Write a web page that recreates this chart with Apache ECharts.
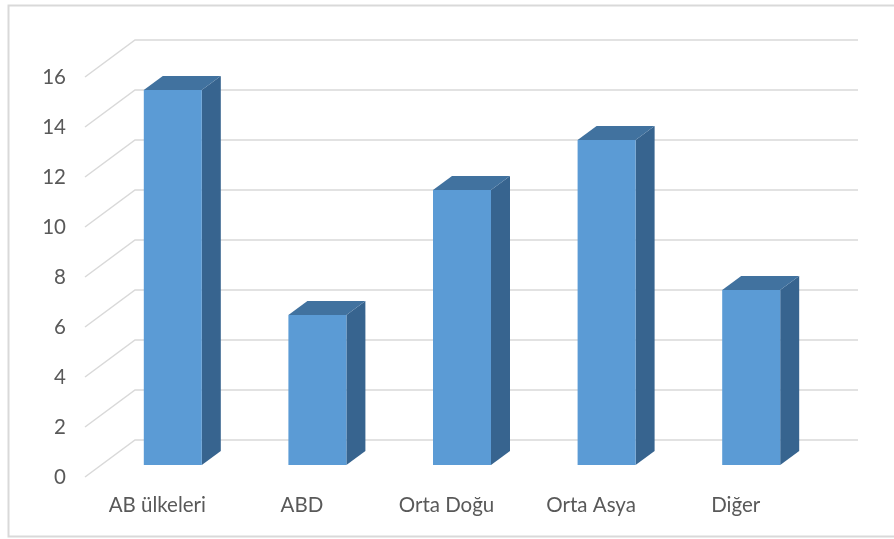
<!DOCTYPE html>
<html>
<head>
<meta charset="utf-8">
<style>html,body{margin:0;padding:0;background:#fff}#c{width:894px;height:539px}</style>
<script src="https://cdn.jsdelivr.net/npm/echarts@6/dist/echarts.min.js"></script>
</head>
<body>
<div id="c"></div>
<script>
const categories = ['AB ülkeleri', 'ABD', 'Orta Doğu', 'Orta Asya', 'Diğer'];
const values = [15, 6, 11, 13, 7];
const yTicks = [0, 2, 4, 6, 8, 10, 12, 14, 16];

const FONT = 'Lato, "Open Sans", sans-serif';
const FLOOR_DX = 50, FLOOR_DY = -37;   // depth of the floor (front edge to back wall)
const BAR_DX = 15.5, BAR_DY = -12;     // front face of the bars within the floor
const DEPTH_DX = 19, DEPTH_DY = -14;   // depth of a bar
const BAR_W = 58;

const chart = echarts.init(document.getElementById('c'), null, {renderer: 'canvas'});

function renderWall(params, api) {
  const y = api.coord([0, api.value(1)])[1];
  const x0 = params.coordSys.x;
  const x1 = x0 + params.coordSys.width + FLOOR_DX;
  return {
    type: 'polyline',
    shape: {points: [[x0, y], [x0 + FLOOR_DX, y + FLOOR_DY], [x1, y + FLOOR_DY]]},
    style: {stroke: '#d9d9d9', lineWidth: 1.5, fill: 'none'}
  };
}

function renderBar(params, api) {
  const top = api.coord([api.value(0), api.value(1)]);
  const base = api.coord([api.value(0), 0]);
  const l = top[0] + BAR_DX - BAR_W / 2, r = l + BAR_W;
  const t = top[1] + BAR_DY, b = base[1] + BAR_DY;
  const dx = DEPTH_DX, dy = DEPTH_DY;
  return {
    type: 'group',
    children: [
      {type: 'polygon', shape: {points: [[r, t], [r + dx, t + dy], [r + dx, b + dy], [r, b]]},
        style: {fill: '#37648f'}},
      {type: 'polygon', shape: {points: [[l, t], [l + dx, t + dy], [r + dx, t + dy], [r, t]]},
        style: {fill: '#41729f'}},
      {type: 'rect', shape: {x: l, y: t, width: BAR_W, height: b - t},
        style: {fill: '#5b9bd5'}}
    ]
  };
}

chart.setOption({
  animation: false,
  backgroundColor: '#fff',
  grid: {left: 85, width: 723, top: 77, height: 400},
  xAxis: {
    type: 'category',
    data: categories,
    axisLine: {show: false},
    axisTick: {show: false},
    axisLabel: {color: '#595959', fontFamily: FONT, fontSize: 20.5, margin: 18}
  },
  yAxis: {
    type: 'value',
    min: 0,
    max: 16,
    interval: 2,
    splitLine: {show: false},
    axisLine: {show: false},
    axisTick: {show: false},
    axisLabel: {color: '#595959', fontFamily: FONT, fontSize: 20.5, margin: 19}
  },
  graphic: [{
    type: 'rect',
    shape: {x: 8.5, y: 5.5, width: 900, height: 531},
    style: {stroke: '#d9d9d9', lineWidth: 2, fill: 'none'},
    silent: true
  }],
  series: [
    {type: 'custom', renderItem: renderWall, clip: false, z: 1, silent: true,
      data: yTicks.map(v => [0, v])},
    {type: 'custom', renderItem: renderBar, clip: false, z: 2, silent: true,
      data: values.map((v, i) => [i, v])}
  ]
});
</script>
</body>
</html>
